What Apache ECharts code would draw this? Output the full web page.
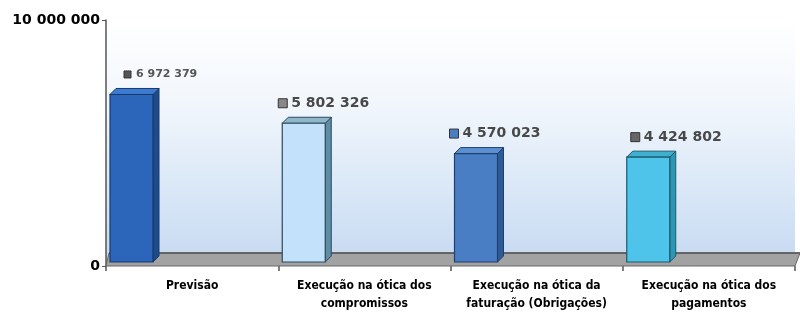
<!DOCTYPE html>
<html>
<head>
<meta charset="utf-8">
<script src="https://cdn.jsdelivr.net/npm/echarts@6/dist/echarts.min.js"></script>
<style>
  html, body { margin: 0; padding: 0; background: #fff; }
  #chart { width: 800px; height: 313px; }
</style>
</head>
<body>
<div id="chart"></div>
<script>
// data
const categories = [
  "Previsão",
  "Execução na ótica dos\ncompromissos",
  "Execução na ótica da\nfaturação (Obrigações)",
  "Execução na ótica dos\npagamentos",
];
const values = [6972379, 5802326, 4570023, 4424802];
const yTicks = [0, 10000000];

// looks of each bar (front / side / top / outline)
const palette = [
  { front: "#2c66ba", side: "#1d4b8c", top: "#3c7bd0", edge: "#183a6a", icon: "#555", dx: 14, small: true },
  { front: "#c3e1fa", side: "#5d8ea6", top: "#8fb7cc", edge: "#2c4a5c", icon: "#888", dx: -4 },
  { front: "#4a7ec4", side: "#2d5b98", top: "#5c8fd2", edge: "#203f6c", icon: "#4a7ec4", dx: -5 },
  { front: "#4fc4ea", side: "#2a98b4", top: "#3db0cf", edge: "#1d5a6c", icon: "#666", dx: 4 },
];

function fmt(v) {
  return String(v).replace(/\B(?=(\d{3})+(?!\d))/g, " ");
}

function renderFloor(params, api) {
  const cs = params.coordSys;
  const x0 = cs.x, x1 = cs.x + cs.width;
  const yb = cs.y + cs.height, yt = yb - 13;
  return {
    type: "group",
    children: [
      {
        type: "polygon",
        shape: { points: [[x0, yb], [x1, yb], [x1 + 5, yt], [x0 + 3, yt]] },
        style: { fill: "#a2a2a2", stroke: "#666", lineWidth: 1 },
      },
      {
        type: "line",
        shape: { x1: x0 + 3, y1: yt, x2: x1 + 5, y2: yt },
        style: { stroke: "#555", lineWidth: 1.5 },
      },
    ],
  };
}

function renderBar(params, api) {
  const i = api.value(0);
  const base = api.coord([i, 0]);
  const top = api.coord([i, api.value(1)]);
  const band = api.size([1, 0])[0];
  const w = 43;
  const left = base[0] - band / 2 + 4;
  const dx = 6, dy = 6;
  const bottom = base[1] - 4;
  const y = top[1];
  const c = palette[i];
  const ly = y - dy - 14;
  const lx = left + c.dx;
  return {
    type: "group",
    children: [
      {
        type: "polygon",
        shape: { points: [[left + w, y], [left + w + dx, y - dy], [left + w + dx, bottom - dy], [left + w, bottom]] },
        style: { fill: c.side, stroke: c.edge, lineWidth: 1 },
      },
      {
        type: "polygon",
        shape: { points: [[left, y], [left + dx, y - dy], [left + w + dx, y - dy], [left + w, y]] },
        style: { fill: c.top, stroke: c.edge, lineWidth: 1 },
      },
      {
        type: "rect",
        shape: { x: left, y: y, width: w, height: bottom - y },
        style: { fill: c.front, stroke: c.edge, lineWidth: 1.2 },
      },
      {
        type: "rect",
        shape: c.small ? { x: lx, y: ly - 3.5, width: 7, height: 7 } : { x: lx, y: ly - 4.5, width: 9, height: 9 },
        style: { fill: c.icon, stroke: "#333", lineWidth: 1 },
      },
      {
        type: "text",
        style: {
          x: lx + (c.small ? 12 : 13),
          y: ly,
          text: fmt(api.value(1)),
          fill: c.small ? "#555" : "#484848",
          font: c.small ? "bold 11px 'DejaVu Sans'" : "bold 14px 'DejaVu Sans'",
          verticalAlign: "middle",
          align: "left",
        },
      },
    ],
  };
}

const chart = echarts.init(document.getElementById("chart"));
chart.setOption({
  animation: false,
  backgroundColor: "#fff",
  grid: {
    left: 106,
    right: 5,
    top: 20,
    bottom: 43,
    show: true,
    borderWidth: 0,
    backgroundColor: {
      type: "linear", x: 0, y: 0, x2: 0, y2: 1,
      colorStops: [
        { offset: 0, color: "#ffffff" },
        { offset: 0.35, color: "#f1f6fc" },
        { offset: 0.7, color: "#d9e7f7" },
        { offset: 1, color: "#c6d9f1" },
      ],
    },
  },
  xAxis: {
    type: "category",
    data: categories,
    axisLine: { show: false },
    axisTick: { show: true, length: 5, lineStyle: { color: "#555", width: 1.5 } },
    axisLabel: {
      color: "#000",
      fontFamily: "DejaVu Sans Condensed",
      fontWeight: "bold",
      fontSize: 12,
      lineHeight: 18,
      margin: 11,
      interval: 0,
    },
  },
  yAxis: {
    type: "value",
    min: yTicks[0],
    max: yTicks[1],
    interval: yTicks[1] - yTicks[0],
    splitLine: { show: false },
    axisLine: { show: true, lineStyle: { color: "#555", width: 1.5 } },
    axisTick: { show: true, length: 4, lineStyle: { color: "#555" } },
    axisLabel: {
      color: "#000",
      fontFamily: "DejaVu Sans",
      fontWeight: "bold",
      fontSize: 14,
      margin: 6,
      formatter: fmt,
    },
  },
  series: [
    {
      type: "custom",
      renderItem: renderFloor,
      data: [[0, 0]],
      silent: true,
      z: 1,
    },
    {
      type: "custom",
      renderItem: renderBar,
      encode: { x: 0, y: 1 },
      data: values.map((v, i) => [i, v]),
      z: 2,
    },
  ],
});
</script>
</body>
</html>
